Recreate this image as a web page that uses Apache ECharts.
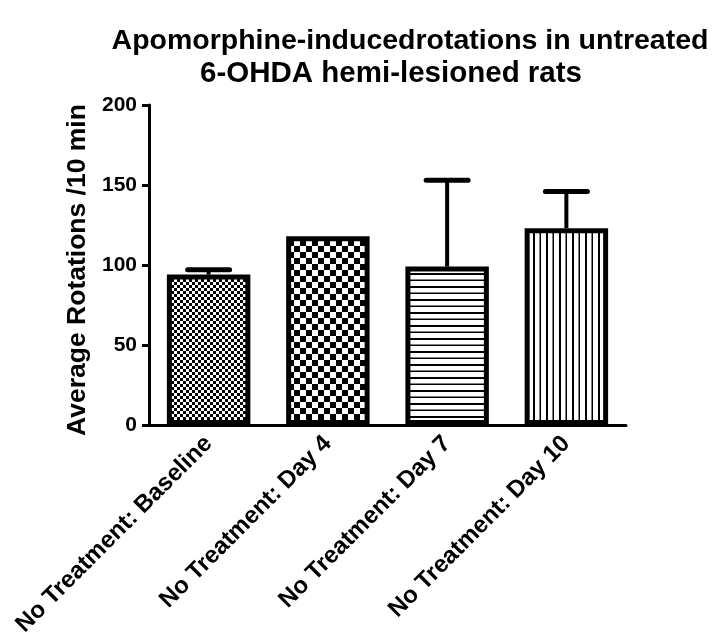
<!DOCTYPE html>
<html><head><meta charset="utf-8">
<script src="https://cdn.jsdelivr.net/npm/echarts@6/dist/echarts.min.js"></script>
<style>html,body{margin:0;padding:0;background:#fff}#c{width:717px;height:643px}</style>
</head><body><div id="c"></div>
<script>
const categories = ['No Treatment: Baseline','No Treatment: Day 4','No Treatment: Day 7','No Treatment: Day 10'];
const means = [94, 118, 99, 123];
const upperErrors = [97, 118, 153, 146];
const yTicks = {min: 0, max: 200, interval: 50};
const titleLines = ['Apomorphine-inducedrotations in untreated', '6-OHDA hemi-lesioned rats'];

function pattern(kind) {
  const c = document.createElement('canvas');
  const ctx = c.getContext('2d');
  if (kind === 'fineChecker' || kind === 'coarseChecker') {
    const s = kind === 'fineChecker' ? 3 : 6;
    c.width = c.height = 2 * s;
    ctx.fillStyle = '#fff'; ctx.fillRect(0, 0, 2*s, 2*s);
    ctx.fillStyle = '#000';
    ctx.fillRect(0, 0, s, s); ctx.fillRect(s, s, s, s);
  } else if (kind === 'hLines') {
    c.width = 13; c.height = 13;
    ctx.fillStyle = '#fff'; ctx.fillRect(0, 0, 13, 13);
    ctx.fillStyle = '#000';
    ctx.fillRect(0, 0, 13, 2); ctx.fillRect(0, 6.5, 13, 1.5);
  } else {
    c.width = 13; c.height = 13;
    ctx.fillStyle = '#fff'; ctx.fillRect(0, 0, 13, 13);
    ctx.fillStyle = '#000';
    ctx.fillRect(0, 0, 2, 13); ctx.fillRect(6.5, 0, 1.5, 13);
  }
  return {image: c, repeat: 'repeat'};
}
const patterns = ['fineChecker', 'coarseChecker', 'hLines', 'vLines'];

const chart = echarts.init(document.getElementById('c'), null, {renderer: 'canvas'});
const font = 'Arial, "Liberation Sans", sans-serif';
chart.setOption({
  animation: false,
  title: [
    {
      text: titleLines[0], left: 405, top: 22, textAlign: 'center',
      textStyle: {fontFamily: font, fontWeight: 'bold', fontSize: 28.5, color: '#000'}
    },
    {
      text: titleLines[1], left: 386, top: 54, textAlign: 'center',
      textStyle: {fontFamily: font, fontWeight: 'bold', fontSize: 29.5, color: '#000'}
    }
  ],
  grid: {left: 149, right: 91, top: 105, bottom: 218},
  xAxis: {
    type: 'category', data: categories,
    axisLine: {lineStyle: {color: '#000', width: 3}},
    axisTick: {alignWithLabel: true, length: 7, lineStyle: {width: 3, color: '#000'}},
    axisLabel: {rotate: 45, fontFamily: font, fontWeight: 'bold', fontSize: 24, color: '#000', margin: 15, interval: 0}
  },
  yAxis: {
    type: 'value', min: yTicks.min, max: yTicks.max, interval: yTicks.interval,
    name: 'Average Rotations /10 min', nameLocation: 'middle', nameGap: 57,
    nameTextStyle: {fontFamily: font, fontWeight: 'bold', fontSize: 26.5, color: '#000', padding: [0, 10, 0, 0]},
    axisLine: {show: true, lineStyle: {color: '#000', width: 3}},
    axisTick: {show: true, length: 7, lineStyle: {width: 3, color: '#000'}},
    splitLine: {show: false},
    axisLabel: {fontFamily: font, fontWeight: 'bold', fontSize: 21, color: '#000', margin: 12}
  },
  series: [
    {
      type: 'custom',
      z: 1,
      data: means.map((m, i) => [i, m, upperErrors[i]]),
      renderItem: function (params, api) {
        const x = api.value(0);
        if (api.value(2) <= api.value(1)) return {type: 'group', children: []};
        const p0 = api.coord([x, api.value(1)]);
        const p1 = api.coord([x, api.value(2)]);
        const half = 21;
        return {
          type: 'group',
          children: [
            {type: 'line', shape: {x1: p0[0], y1: p0[1], x2: p1[0], y2: p1[1]}, style: {stroke: '#000', lineWidth: 4}},
            {type: 'line', shape: {x1: p1[0]-half, y1: p1[1], x2: p1[0]+half, y2: p1[1]}, style: {stroke: '#000', lineWidth: 5, lineCap: 'round'}}
          ]
        };
      }
    },
    {
      type: 'bar', z: 2,
      barWidth: '70%',
      data: means.map((m, i) => ({value: m, itemStyle: {color: pattern(patterns[i])}})),
      itemStyle: {borderColor: '#000', borderWidth: 5}
    }
  ]
});
</script></body></html>
